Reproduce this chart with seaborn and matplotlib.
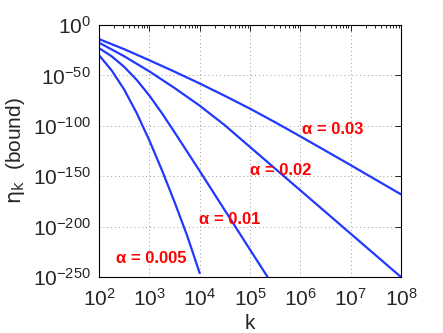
import numpy as np
import pandas as pd
import seaborn as sns
import matplotlib.pyplot as plt
from matplotlib.ticker import FixedLocator, NullLocator, LogLocator

# curve samples: log10(k) and log10(eta_k bound)
logk_003 = [2, 2.5, 3, 3.5, 4, 4.5, 5, 5.5, 6, 6.5, 7, 7.5, 8]
logeta_003 = [-14, -24, -35, -46.3, -58, -70.3, -83, -96.5, -110.5, -124.7, -139, -153.5, -168]

logk_002 = [2, 2.5, 3, 3.5, 4, 4.5, 5, 5.5, 6, 6.5, 7, 7.5, 8]
logeta_002 = [-17.5, -31, -46, -62.5, -80, -99.5, -121, -142.5, -164, -185.5, -207, -228.5, -250]

logk_001 = [2, 2.25, 2.5, 2.75, 3, 3.25, 3.5, 4, 4.5, 5, 5.35]
logeta_001 = [-23, -31, -41.5, -54.5, -70, -87.5, -106.3, -144.8, -183.8, -222.8, -250]

logk_0005 = [2, 2.25, 2.5, 2.75, 3, 3.25, 3.5, 3.75, 4]
logeta_0005 = [-30, -45, -64, -87.5, -114.5, -144, -175.5, -208.8, -246]

alphas = ["0.03", "0.02", "0.01", "0.005"]
label_logk = [6.03, 5.0, 3.99, 2.34]
label_logeta = [-104, -144, -192.5, -232]

frames = []
for a, lk, le in zip(alphas,
                     [logk_003, logk_002, logk_001, logk_0005],
                     [logeta_003, logeta_002, logeta_001, logeta_0005]):
    frames.append(pd.DataFrame({"k": 10.0 ** np.array(lk),
                                "eta": 10.0 ** np.array(le),
                                "alpha": a}))
df = pd.concat(frames, ignore_index=True)

sns.set_style("white")
plt.rcParams["font.family"] = ["Liberation Sans", "DejaVu Sans"]
plt.rcParams["mathtext.fontset"] = "custom"
plt.rcParams["mathtext.rm"] = "Liberation Sans"
plt.rcParams["mathtext.it"] = "Liberation Sans:italic"
plt.rcParams["mathtext.bf"] = "Liberation Sans:bold"

fig = plt.figure(figsize=(4.43, 3.33), dpi=100)
ax = fig.add_axes([0.2235, 0.168, 0.6817, 0.757])

blue = (0.13, 0.22, 1.0)
sns.lineplot(data=df, x="k", y="eta", hue="alpha", estimator=None, sort=False,
             palette=[blue] * 4, linewidth=1.6, legend=False, ax=ax)

ax.set_xscale("log")
ax.set_yscale("log")
ax.set_xlim(1e2, 1e8)
ax.set_ylim(1e-250, 1e0)

xt = [10.0 ** p for p in range(2, 9)]
ax.xaxis.set_major_locator(FixedLocator(xt))
ax.set_xticklabels([r"$\mathregular{10^{%d}}$" % p for p in range(2, 9)])
ax.xaxis.set_minor_locator(LogLocator(base=10, subs=np.arange(2, 10), numticks=20))

yp = [0, -50, -100, -150, -200, -250]
ax.yaxis.set_major_locator(FixedLocator([10.0 ** p for p in yp]))
ax.set_yticklabels([r"$\mathregular{10^{%d}}$" % p for p in yp])
ax.yaxis.set_minor_locator(NullLocator())

ax.tick_params(which="both", direction="in", top=True, right=True,
               labelsize=15, color="black", width=0.6)
ax.tick_params(which="major", length=4, pad=6)
ax.tick_params(which="minor", length=2.5)
ax.tick_params(axis="x", which="major", pad=8)

ax.grid(True, which="major", linestyle=(0, (1, 3)), color="#999999", linewidth=0.7)
for s in ax.spines.values():
    s.set_color("black")
    s.set_linewidth(0.8)

ax.set_xlabel("k", fontsize=15, labelpad=3)
ax.set_ylabel(r"$\mathrm{\eta_k}$  (bound)", fontsize=15, labelpad=4,
              math_fontfamily="dejavusans")

for a, lx, ly in zip(alphas, label_logk, label_logeta):
    ax.text(10.0 ** lx, 10.0 ** ly, "α = " + a, color="red", fontsize=12,
            fontweight="bold", ha="left", va="center")

fig.savefig("out.png", dpi=100)
